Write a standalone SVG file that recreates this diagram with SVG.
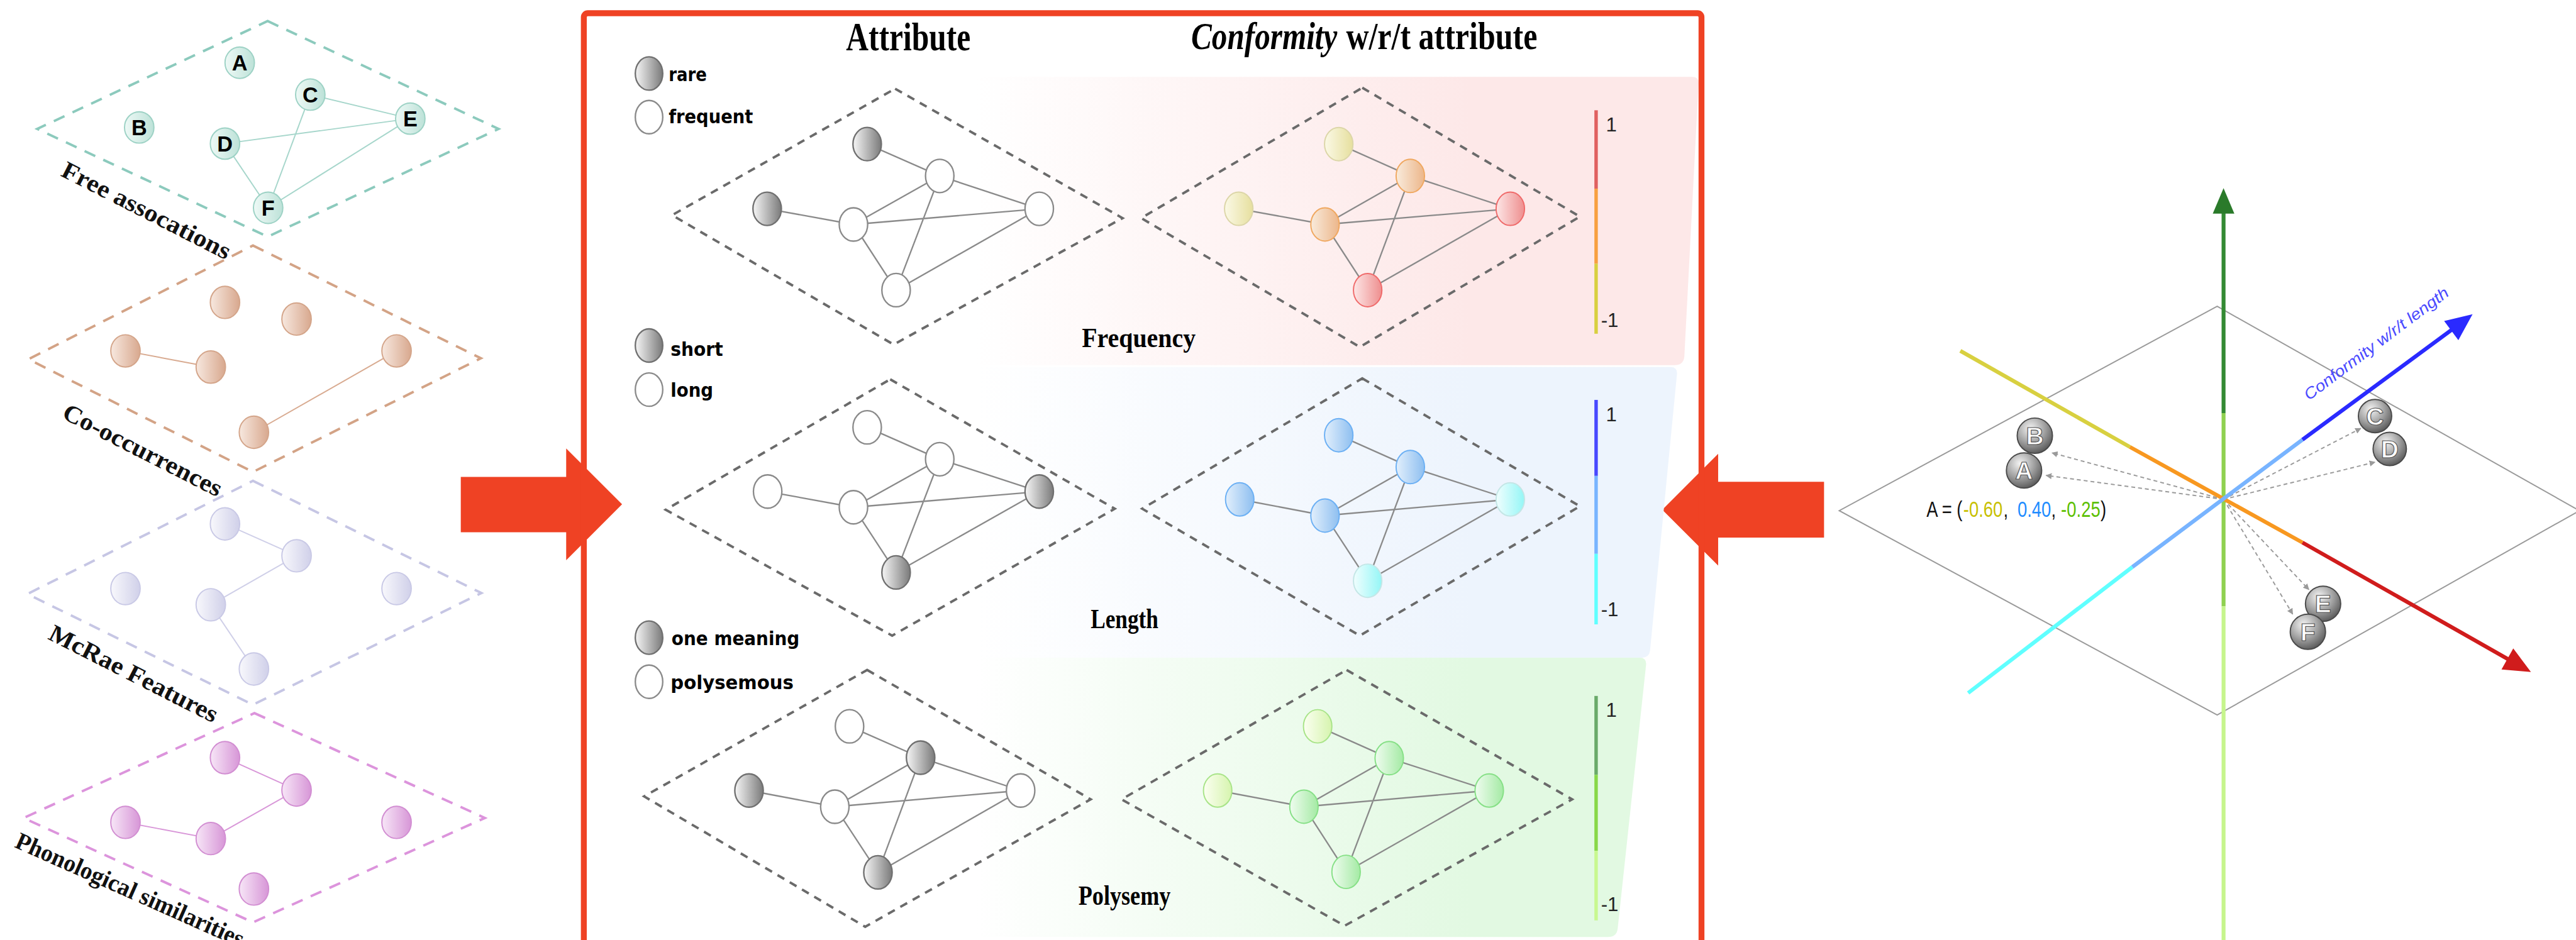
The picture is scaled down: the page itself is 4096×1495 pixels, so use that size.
<svg xmlns="http://www.w3.org/2000/svg" width="4096" height="1495" viewBox="0 0 4096 1495">
<style>
.ttl{font-family:"Liberation Serif",serif;font-weight:bold;fill:#000}
.lay{font-family:"Liberation Serif",serif;font-weight:bold;font-size:50px;fill:#111}
.ltr{font-family:"Liberation Sans",sans-serif;font-weight:bold;font-size:44px;fill:#000;text-anchor:middle}
.leg{font-family:"DejaVu Sans Condensed","DejaVu Sans",sans-serif;font-weight:bold;font-size:38px;fill:#000}
.sc{font-family:"Liberation Sans",sans-serif;font-size:40px;fill:#222}
.dd{fill:none;stroke:#6a6a6a;stroke-width:5;stroke-dasharray:16 13}
.e{stroke:#8a8a8a;stroke-width:3;fill:none}
.nw{fill:#fff;stroke:#8a8a8a;stroke-width:3}
.ng{fill:url(#gGray);stroke:#707070;stroke-width:3}
.sph{fill:url(#gSph);stroke:#4a4a4a;stroke-width:2.5}
.sl{font-family:"Liberation Sans",sans-serif;font-weight:bold;font-size:50px;fill:#fff;stroke:#555;stroke-width:1.5;text-anchor:middle}
.da{stroke:#9a9a9a;stroke-width:2.5;stroke-dasharray:8 6;fill:none;marker-end:url(#mg)}
.co{font-family:"Liberation Sans",sans-serif;font-size:44px}
</style>
<defs>
<linearGradient id="gTeal" x1="0" x2="1"><stop offset="0" stop-color="#eef9f6"/><stop offset="1" stop-color="#bde2d8"/></linearGradient>
<linearGradient id="gBrown" x1="0" x2="1"><stop offset="0" stop-color="#f7e8df"/><stop offset="1" stop-color="#d8a88e"/></linearGradient>
<linearGradient id="gLav" x1="0" x2="1"><stop offset="0" stop-color="#f8f8fc"/><stop offset="1" stop-color="#d0d0e9"/></linearGradient>
<linearGradient id="gPink" x1="0" x2="1"><stop offset="0" stop-color="#f7e6f7"/><stop offset="1" stop-color="#d796d7"/></linearGradient>
<linearGradient id="gGray" x1="0" x2="1"><stop offset="0" stop-color="#f6f6f6"/><stop offset="1" stop-color="#7a7a7a"/></linearGradient>
<linearGradient id="gY" x1="0" x2="1"><stop offset="0" stop-color="#fbf9e6"/><stop offset="1" stop-color="#e6df9e"/></linearGradient>
<linearGradient id="gO" x1="0" x2="1"><stop offset="0" stop-color="#f9ebdc"/><stop offset="1" stop-color="#ecb68a"/></linearGradient>
<linearGradient id="gR" x1="0" x2="1"><stop offset="0" stop-color="#fde6e6"/><stop offset="1" stop-color="#ee8e8e"/></linearGradient>
<linearGradient id="gB" x1="0" x2="1"><stop offset="0" stop-color="#e2effc"/><stop offset="1" stop-color="#8ebff0"/></linearGradient>
<linearGradient id="gC" x1="0" x2="1"><stop offset="0" stop-color="#f0fefe"/><stop offset="1" stop-color="#94f6f6"/></linearGradient>
<linearGradient id="gLG" x1="0" x2="1"><stop offset="0" stop-color="#fbfff1"/><stop offset="1" stop-color="#d6f4ae"/></linearGradient>
<linearGradient id="gG" x1="0" x2="1"><stop offset="0" stop-color="#effcef"/><stop offset="1" stop-color="#a4eaa4"/></linearGradient>
<radialGradient id="gSph" cx="0.38" cy="0.3" r="0.75"><stop offset="0" stop-color="#f4f4f4"/><stop offset="0.55" stop-color="#a0a0a0"/><stop offset="1" stop-color="#555"/></radialGradient>
<linearGradient id="pPink" gradientUnits="userSpaceOnUse" x1="1990" y1="0" x2="3000" y2="0"><stop offset="0" stop-color="#fde8e8" stop-opacity="0"/><stop offset="1" stop-color="#fde8e8"/></linearGradient>
<linearGradient id="pBlue" gradientUnits="userSpaceOnUse" x1="1990" y1="0" x2="3000" y2="0"><stop offset="0" stop-color="#edf4fd" stop-opacity="0"/><stop offset="1" stop-color="#edf4fd"/></linearGradient>
<linearGradient id="pGreen" gradientUnits="userSpaceOnUse" x1="1990" y1="0" x2="3000" y2="0"><stop offset="0" stop-color="#e2f9e2" stop-opacity="0"/><stop offset="1" stop-color="#e2f9e2"/></linearGradient>
<marker id="mg" viewBox="0 0 10 10" refX="9" refY="5" markerWidth="5" markerHeight="5" orient="auto" markerUnits="strokeWidth"><path d="M0,0 L10,5 L0,10 Z" fill="#9a9a9a"/></marker>
</defs>
<g transform="scale(0.779452)">
<rect width="5255" height="1918" fill="#fff"/>

<!-- LEFT COLUMN: layered networks -->
<g id="layer-free-associations">
<polygon points="546,43 1017,263 546,483 76,263" fill="none" stroke="#8ccabd" stroke-width="5" stroke-dasharray="24 18"/>
<g stroke="#a6d6cb" stroke-width="2.5"><line x1="633" y1="193" x2="837" y2="242"/><line x1="459" y1="293" x2="837" y2="242"/><line x1="633" y1="193" x2="547" y2="424"/><line x1="459" y1="293" x2="547" y2="424"/><line x1="837" y1="242" x2="547" y2="424"/></g>
<g fill="url(#gTeal)" stroke="#9dd2c5" stroke-width="2.5">
<ellipse cx="489" cy="128" rx="30" ry="32"/><ellipse cx="284" cy="260" rx="30" ry="32"/><ellipse cx="633" cy="193" rx="30" ry="32"/><ellipse cx="459" cy="293" rx="30" ry="32"/><ellipse cx="837" cy="242" rx="30" ry="32"/><ellipse cx="547" cy="424" rx="30" ry="32"/></g>
<text class="ltr" x="489" y="144">A</text><text class="ltr" x="284" y="276">B</text><text class="ltr" x="633" y="209">C</text><text class="ltr" x="459" y="309">D</text><text class="ltr" x="837" y="258">E</text><text class="ltr" x="547" y="440">F</text>
<text class="lay" transform="translate(122,358) rotate(27)" textLength="380" lengthAdjust="spacingAndGlyphs">Free assocations</text>
</g>

<g id="layer-co-occurrences">
<polygon points="516,501 981,731 516,963 58,733" fill="none" stroke="#d3a386" stroke-width="5" stroke-dasharray="24 18"/>
<g stroke="#d8aa90" stroke-width="2.5"><line x1="256" y1="716" x2="430" y2="749"/><line x1="809" y1="716" x2="518" y2="882"/></g>
<g fill="url(#gBrown)" stroke="#d4a58a" stroke-width="2.5">
<ellipse cx="459" cy="617" rx="30" ry="33"/><ellipse cx="605" cy="651" rx="30" ry="33"/><ellipse cx="256" cy="716" rx="30" ry="33"/><ellipse cx="430" cy="749" rx="30" ry="33"/><ellipse cx="809" cy="716" rx="30" ry="33"/><ellipse cx="518" cy="882" rx="30" ry="33"/></g>
<text class="lay" transform="translate(124,852) rotate(27)" textLength="358" lengthAdjust="spacingAndGlyphs">Co-occurrences</text>
</g>

<g id="layer-mcrae">
<polygon points="516,981 982,1210 516,1438 56,1212" fill="none" stroke="#c6c6e4" stroke-width="5" stroke-dasharray="24 18"/>
<g stroke="#cfcfe8" stroke-width="2.5"><line x1="459" y1="1069" x2="605" y2="1134"/><line x1="605" y1="1134" x2="430" y2="1234"/><line x1="430" y1="1234" x2="518" y2="1365"/></g>
<g fill="url(#gLav)" stroke="#c9c9e6" stroke-width="2.5">
<ellipse cx="459" cy="1069" rx="30" ry="33"/><ellipse cx="605" cy="1134" rx="30" ry="33"/><ellipse cx="256" cy="1201" rx="30" ry="33"/><ellipse cx="430" cy="1234" rx="30" ry="33"/><ellipse cx="809" cy="1201" rx="30" ry="33"/><ellipse cx="518" cy="1365" rx="30" ry="33"/></g>
<text class="lay" transform="translate(96,1303) rotate(27)" textLength="380" lengthAdjust="spacingAndGlyphs">McRae Features</text>
</g>

<g id="layer-phonological">
<polygon points="519,1455 989,1669 516,1882 48,1669" fill="none" stroke="#dc94dc" stroke-width="5" stroke-dasharray="24 18"/>
<g stroke="#d896d8" stroke-width="2.5"><line x1="459" y1="1546" x2="605" y2="1612"/><line x1="605" y1="1612" x2="430" y2="1711"/><line x1="256" y1="1678" x2="430" y2="1711"/></g>
<g fill="url(#gPink)" stroke="#d28ed2" stroke-width="2.5">
<ellipse cx="459" cy="1546" rx="30" ry="33"/><ellipse cx="605" cy="1612" rx="30" ry="33"/><ellipse cx="256" cy="1678" rx="30" ry="33"/><ellipse cx="430" cy="1711" rx="30" ry="33"/><ellipse cx="809" cy="1678" rx="30" ry="33"/><ellipse cx="518" cy="1814" rx="30" ry="33"/></g>
<text class="lay" transform="translate(28,1728) rotate(24)" textLength="505" lengthAdjust="spacingAndGlyphs">Phonological similarities</text>
</g>

<!-- big red arrows -->
<g id="arrow-left"><polygon points="940,973 1155,973 1155,915 1269,1029 1155,1143 1155,1086 940,1086" fill="#ef4224"/></g>
<g id="arrow-right"><polygon points="3721,983 3505,983 3505,926 3391,1040 3505,1154 3505,1097 3721,1097" fill="#ef4224"/></g>

<!-- MIDDLE PANEL -->
<g id="panel-bg">
<path d="M1990,157 H3452 Q3466,157 3465,171 L3436,728 Q3434,745 3416,745 H1990 Z" fill="url(#pPink)"/>
<path d="M1990,749 H3408 Q3422,749 3421,763 L3366,1328 Q3364,1342 3350,1342 H1990 Z" fill="url(#pBlue)"/>
<path d="M1990,1342 H3345 Q3359,1342 3358,1356 L3300,1895 Q3298,1912 3280,1912 H1990 Z" fill="url(#pGreen)"/>
</g>
<g id="red-frame"><rect x="1191" y="27" width="2280" height="1960" rx="8" fill="none" stroke="#ef4224" stroke-width="12"/></g>

<g id="titles">
<text class="ttl" x="1726" y="103" font-size="80" textLength="254" lengthAdjust="spacingAndGlyphs">Attribute</text>
<text class="ttl" x="2430" y="100" font-size="78" font-style="italic" textLength="298" lengthAdjust="spacingAndGlyphs">Conformity</text>
<text class="ttl" x="2746" y="100" font-size="78" textLength="390" lengthAdjust="spacingAndGlyphs">w/r/t attribute</text>
</g>

<g id="legends">
<ellipse class="ng" cx="1324" cy="150" rx="28" ry="34"/><text class="leg" x="1364" y="166" textLength="78" lengthAdjust="spacingAndGlyphs">rare</text>
<ellipse class="nw" cx="1324" cy="239" rx="28" ry="34"/><text class="leg" x="1364" y="252" textLength="172" lengthAdjust="spacingAndGlyphs">frequent</text>
<ellipse class="ng" cx="1324" cy="705" rx="28" ry="34"/><text class="leg" x="1368" y="726" textLength="107" lengthAdjust="spacingAndGlyphs">short</text>
<ellipse class="nw" cx="1324" cy="795" rx="28" ry="34"/><text class="leg" x="1368" y="810" textLength="87" lengthAdjust="spacingAndGlyphs">long</text>
<ellipse class="ng" cx="1324" cy="1301" rx="28" ry="34"/><text class="leg" x="1370" y="1316" textLength="261" lengthAdjust="spacingAndGlyphs">one meaning</text>
<ellipse class="nw" cx="1324" cy="1391" rx="28" ry="34"/><text class="leg" x="1368" y="1406" textLength="251" lengthAdjust="spacingAndGlyphs">polysemous</text>
</g>

<g id="diamonds">
<polygon class="dd" points="1826,181 2290,445 1823,703 1371,439"/>
<polygon class="dd" points="2779,179 3223,442 2774,708 2328,445"/>
<polygon class="dd" points="1816,774 2274,1038 1820,1297 1358,1040"/>
<polygon class="dd" points="2779,772 3223,1033 2774,1297 2330,1038"/>
<polygon class="dd" points="1769,1367 2225,1631 1765,1891 1314,1625"/>
<polygon class="dd" points="2747,1367 3207,1631 2743,1889 2288,1631"/>
</g>

<g id="connectors">
<g id="edges-freq-attr" class="e"><path d="M1769,294 L1917,359 M1565,426 L1741,458 M1741,458 L1917,359 M1917,359 L2120,426 M1741,458 L2120,426 M1917,359 L1828,592 M1741,458 L1828,592 M2120,426 L1828,592"/></g>
<g id="edges-freq-conf" class="e"><path d="M2731,294 L2877,359 M2527,426 L2703,458 M2703,458 L2877,359 M2877,359 L3081,426 M2703,458 L3081,426 M2877,359 L2790,592 M2703,458 L2790,592 M3081,426 L2790,592"/></g>
<g id="edges-len-attr" class="e"><path d="M1769,872 L1917,937 M1566,1003 L1741,1035 M1741,1035 L1917,937 M1917,937 L2120,1003 M1741,1035 L2120,1003 M1917,937 L1828,1168 M1741,1035 L1828,1168 M2120,1003 L1828,1168"/></g>
<g id="edges-len-conf" class="e"><path d="M2731,888 L2877,953 M2529,1019 L2703,1052 M2703,1052 L2877,953 M2877,953 L3081,1019 M2703,1052 L3081,1019 M2877,953 L2790,1185 M2703,1052 L2790,1185 M3081,1019 L2790,1185"/></g>
<g id="edges-poly-attr" class="e"><path d="M1733,1482 L1878,1546 M1528,1613 L1703,1646 M1703,1646 L1878,1546 M1878,1546 L2082,1613 M1703,1646 L2082,1613 M1878,1546 L1791,1780 M1703,1646 L1791,1780 M2082,1613 L1791,1780"/></g>
<g id="edges-poly-conf" class="e"><path d="M2688,1482 L2834,1547 M2484,1613 L2660,1646 M2660,1646 L2834,1547 M2834,1547 L3038,1613 M2660,1646 L3038,1613 M2834,1547 L2746,1779 M2660,1646 L2746,1779 M3038,1613 L2746,1779"/></g>
<g id="axis-arrows" class="da">
<line x1="4536" y1="1019" x2="4186" y2="924"/><line x1="4536" y1="1019" x2="4174" y2="970"/>
<line x1="4536" y1="1019" x2="4816" y2="874"/><line x1="4536" y1="1019" x2="4845" y2="943"/>
<line x1="4536" y1="1019" x2="4710" y2="1203"/><line x1="4536" y1="1019" x2="4677" y2="1253"/>
</g>
</g>

<g id="graph-freq-attr">
<ellipse class="ng" cx="1769" cy="294" rx="29" ry="34"/><ellipse class="nw" cx="1917" cy="359" rx="29" ry="34"/><ellipse class="ng" cx="1565" cy="426" rx="29" ry="34"/><ellipse class="nw" cx="1741" cy="458" rx="29" ry="34"/><ellipse class="nw" cx="2120" cy="426" rx="29" ry="34"/><ellipse class="nw" cx="1828" cy="592" rx="29" ry="34"/>
</g>
<g id="graph-freq-conf" stroke-width="2.5">
<ellipse cx="2731" cy="294" rx="29" ry="34" fill="url(#gY)" stroke="#dcd6a8"/><ellipse cx="2877" cy="359" rx="29" ry="34" fill="url(#gO)" stroke="#f0a860"/><ellipse cx="2527" cy="426" rx="29" ry="34" fill="url(#gY)" stroke="#dcd6a8"/><ellipse cx="2703" cy="458" rx="29" ry="34" fill="url(#gO)" stroke="#f0a860"/><ellipse cx="3081" cy="426" rx="29" ry="34" fill="url(#gR)" stroke="#f06a6a"/><ellipse cx="2790" cy="592" rx="29" ry="34" fill="url(#gR)" stroke="#f06a6a"/>
</g>
<g id="graph-len-attr">
<ellipse class="nw" cx="1769" cy="872" rx="29" ry="34"/><ellipse class="nw" cx="1917" cy="937" rx="29" ry="34"/><ellipse class="nw" cx="1566" cy="1003" rx="29" ry="34"/><ellipse class="nw" cx="1741" cy="1035" rx="29" ry="34"/><ellipse class="ng" cx="2120" cy="1003" rx="29" ry="34"/><ellipse class="ng" cx="1828" cy="1168" rx="29" ry="34"/>
</g>
<g id="graph-len-conf" stroke-width="2.5">
<ellipse cx="2731" cy="888" rx="29" ry="34" fill="url(#gB)" stroke="#6cb0f4"/><ellipse cx="2877" cy="953" rx="29" ry="34" fill="url(#gB)" stroke="#6cb0f4"/><ellipse cx="2529" cy="1019" rx="29" ry="34" fill="url(#gB)" stroke="#6cb0f4"/><ellipse cx="2703" cy="1052" rx="29" ry="34" fill="url(#gB)" stroke="#6cb0f4"/><ellipse cx="3081" cy="1019" rx="29" ry="34" fill="url(#gC)" stroke="#c4e6e6"/><ellipse cx="2790" cy="1185" rx="29" ry="34" fill="url(#gC)" stroke="#c4e6e6"/>
</g>
<g id="graph-poly-attr">
<ellipse class="nw" cx="1733" cy="1482" rx="29" ry="34"/><ellipse class="ng" cx="1878" cy="1546" rx="29" ry="34"/><ellipse class="ng" cx="1528" cy="1613" rx="29" ry="34"/><ellipse class="nw" cx="1703" cy="1646" rx="29" ry="34"/><ellipse class="nw" cx="2082" cy="1613" rx="29" ry="34"/><ellipse class="ng" cx="1791" cy="1780" rx="29" ry="34"/>
</g>
<g id="graph-poly-conf" stroke-width="2.5">
<ellipse cx="2688" cy="1482" rx="29" ry="34" fill="url(#gLG)" stroke="#a8e488"/><ellipse cx="2834" cy="1547" rx="29" ry="34" fill="url(#gG)" stroke="#86e086"/><ellipse cx="2484" cy="1613" rx="29" ry="34" fill="url(#gLG)" stroke="#a8e488"/><ellipse cx="2660" cy="1646" rx="29" ry="34" fill="url(#gG)" stroke="#86e086"/><ellipse cx="3038" cy="1613" rx="29" ry="34" fill="url(#gG)" stroke="#86e086"/><ellipse cx="2746" cy="1779" rx="29" ry="34" fill="url(#gG)" stroke="#86e086"/>
</g>

<g id="panel-labels">
<text class="ttl" x="2207" y="708" font-size="58" textLength="232" lengthAdjust="spacingAndGlyphs">Frequency</text>
<text class="ttl" x="2225" y="1282" font-size="58" textLength="138" lengthAdjust="spacingAndGlyphs">Length</text>
<text class="ttl" x="2200" y="1846" font-size="58" textLength="188" lengthAdjust="spacingAndGlyphs">Polysemy</text>
</g>

<g id="scales" stroke-width="7">
<line x1="3256" y1="225" x2="3256" y2="385" stroke="#e06060"/><line x1="3256" y1="385" x2="3256" y2="538" stroke="#f8a040"/><line x1="3256" y1="538" x2="3256" y2="681" stroke="#d8d040"/>
<line x1="3256" y1="816" x2="3256" y2="971" stroke="#4848ff"/><line x1="3256" y1="971" x2="3256" y2="1130" stroke="#78b4ff"/><line x1="3256" y1="1130" x2="3256" y2="1274" stroke="#60ffff"/>
<line x1="3256" y1="1420" x2="3256" y2="1581" stroke="#6aaa6a"/><line x1="3256" y1="1581" x2="3256" y2="1736" stroke="#88d848"/><line x1="3256" y1="1736" x2="3256" y2="1878" stroke="#c8f890"/>
<g stroke="none">
<text class="sc" x="3276" y="268">1</text><text class="sc" x="3266" y="667">-1</text>
<text class="sc" x="3276" y="859">1</text><text class="sc" x="3266" y="1257">-1</text>
<text class="sc" x="3276" y="1463">1</text><text class="sc" x="3266" y="1859">-1</text>
</g>
</g>

<!-- RIGHT: 3D conformity space -->
<g id="plane"><polygon points="4523,625 5262,1042 4523,1459 3752,1042" fill="none" stroke="#9a9a9a" stroke-width="2.5"/></g>
<g id="axis-polysemy" stroke-width="8">
<line x1="4536" y1="425" x2="4536" y2="843" stroke="#338a33"/>
<line x1="4536" y1="843" x2="4536" y2="1237" stroke="#8fd14f"/>
<line x1="4536" y1="1237" x2="4536" y2="1918" stroke="#c6f58c"/>
<polygon points="4536,384 4558,436 4514,436" fill="#2a7a2a" stroke="none"/>
</g>
<g id="axis-frequency" stroke-width="8">
<line x1="3999" y1="716" x2="4345" y2="912" stroke="#d8d040"/>
<line x1="4345" y1="912" x2="4697" y2="1107" stroke="#f89820"/>
<line x1="4697" y1="1107" x2="5120" y2="1347" stroke="#d01c1c"/>
<polygon points="5163,1371 5103,1366 5127,1323" fill="#d01c1c"/>
</g>
<g id="axis-length" stroke-width="8">
<line x1="4015" y1="1414" x2="4350" y2="1157" stroke="#60ffff"/>
<line x1="4350" y1="1157" x2="4697" y2="897" stroke="#78b4ff"/>
<line x1="4697" y1="897" x2="5004" y2="671" stroke="#2a2aff"/>
<polygon points="5044,641 5015,694 4986,655" fill="#2a2aff"/>
<text transform="translate(4710,818) rotate(-36.9)" font-family="Liberation Sans, sans-serif" font-style="italic" font-size="32" fill="#4a4aff" textLength="360" lengthAdjust="spacingAndGlyphs">Conformity w/r/t length</text>
</g>
<g id="node-B"><circle class="sph" cx="4151" cy="889" r="36"/><text class="sl" x="4151" y="907">B</text></g>
<g id="node-A"><circle class="sph" cx="4129" cy="960" r="36"/><text class="sl" x="4129" y="978">A</text></g>
<g id="node-C"><circle class="sph" cx="4845" cy="849" r="34"/><text class="sl" x="4845" y="867">C</text></g>
<g id="node-D"><circle class="sph" cx="4875" cy="916" r="34"/><text class="sl" x="4875" y="934">D</text></g>
<g id="node-E"><circle class="sph" cx="4739" cy="1232" r="36"/><text class="sl" x="4739" y="1250">E</text></g>
<g id="node-F"><circle class="sph" cx="4708" cy="1289" r="36"/><text class="sl" x="4708" y="1307">F</text></g>
<g id="coords" transform="translate(3930,1054) scale(0.8,1)">
<text class="co" x="0" y="0" fill="#111">A = (</text>
<text class="co" x="94" y="0" fill="#c8c000">-0.60</text>
<text class="co" x="196" y="0" fill="#111">,</text>
<text class="co" x="232" y="0" fill="#1e8cff">0.40</text>
<text class="co" x="318" y="0" fill="#111">,</text>
<text class="co" x="343" y="0" fill="#5cc000">-0.25</text>
<text class="co" x="444" y="0" fill="#111">)</text>
</g>
</g>
</svg>
